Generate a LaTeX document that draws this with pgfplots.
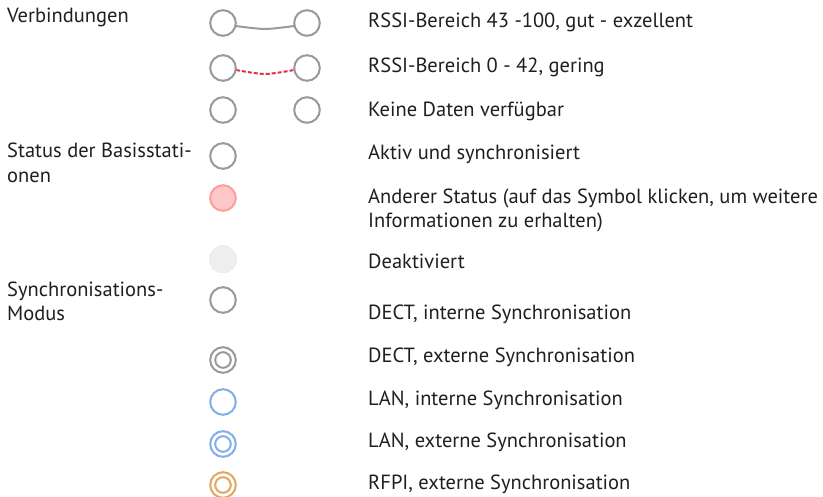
\documentclass[border=0pt]{standalone}
\usepackage{pgfplots}
\pgfplotsset{compat=1.18}
\usepackage{fontspec}
\setmainfont{PT Sans}
\definecolor{ring}{HTML}{9A9A9A}
\definecolor{redline}{HTML}{E2333C}
\definecolor{redfill}{HTML}{FFC8C8}
\definecolor{redring}{HTML}{FF9C9C}
\definecolor{offfill}{HTML}{EEEEEE}
\definecolor{bluering}{HTML}{82AEEA}
\definecolor{orangering}{HTML}{E4A75E}
\tikzset{lbl/.style={inner sep=0pt, anchor=base west, text=black!88}}
\begin{document}
\fontsize{20.5bp}{24bp}\selectfont
\begin{tikzpicture}
\path[use as bounding box] (0,0) rectangle (823bp,497bp);
\begin{axis}[at={(0,0)}, anchor=south west, scale only axis,
  width=823bp, height=497bp, xmin=0, xmax=823, ymin=0, ymax=497,
  y dir=reverse, hide axis, clip=false]
% connection lines
\addplot[ring, line width=2bp, smooth, no marks] coordinates {(236,26) (265,29) (294,26)};
\addplot[redline, line width=2bp, dash pattern=on 4bp off 2bp, smooth, no marks] coordinates {(236,70) (265,74) (294,70)};
% plain gray rings
\addplot[only marks, mark=*, mark size=12.8bp, draw=ring, fill=white, mark options={draw=ring, fill=white, line width=2bp}]
  coordinates {(223,23) (307,23) (223,68) (307,68) (223,110) (307,110) (223,156) (223,300) (223,360)};
% red status
\addplot[only marks, mark=*, mark size=12.8bp, draw=redring, fill=redfill, mark options={draw=redring, fill=redfill, line width=2bp}]
  coordinates {(223,198)};
% deactivated
\addplot[only marks, mark=*, mark size=13.8bp, color=offfill, mark options={draw=offfill, fill=offfill, line width=0pt}]
  coordinates {(223,259)};
% inner rings
\addplot[only marks, mark=*, mark size=7.8bp, draw=ring, fill=white, mark options={draw=ring, fill=white, line width=2bp}]
  coordinates {(223,360)};
% blue
\addplot[only marks, mark=*, mark size=12.8bp, draw=bluering, fill=white, mark options={draw=bluering, fill=white, line width=2bp}]
  coordinates {(223,402) (223,444)};
\addplot[only marks, mark=*, mark size=7.8bp, draw=bluering, fill=white, mark options={draw=bluering, fill=white, line width=2bp}]
  coordinates {(223,444)};
% orange
\addplot[only marks, mark=*, mark size=12.8bp, draw=orangering, fill=white, mark options={draw=orangering, fill=white, line width=2bp}]
  coordinates {(223,485)};
\addplot[only marks, mark=*, mark size=7.8bp, draw=orangering, fill=white, mark options={draw=orangering, fill=white, line width=2bp}]
  coordinates {(223,485)};
% left column
\node[lbl] at (axis cs:7,23) {Verbindungen};
\node[lbl] at (axis cs:7,157) {Status der Basisstati-};
\node[lbl] at (axis cs:7,182) {onen};
\node[lbl] at (axis cs:7,296) {Synchronisations-};
\node[lbl] at (axis cs:7,320) {Modus};
% right column
\node[lbl] at (axis cs:368,28) {RSSI-Bereich 43 -100, gut - exzellent};
\node[lbl] at (axis cs:368,73) {RSSI-Bereich 0 - 42, gering};
\node[lbl] at (axis cs:368,116) {Keine Daten verfügbar};
\node[lbl] at (axis cs:368,159) {Aktiv und synchronisiert};
\node[lbl] at (axis cs:368,203) {Anderer Status (auf das Symbol klicken, um weitere};
\node[lbl] at (axis cs:368,227) {Informationen zu erhalten)};
\node[lbl] at (axis cs:368,268) {Deaktiviert};
\node[lbl] at (axis cs:368,319) {DECT, interne Synchronisation};
\node[lbl] at (axis cs:368,362) {DECT, externe Synchronisation};
\node[lbl] at (axis cs:368,405) {LAN, interne Synchronisation};
\node[lbl] at (axis cs:368,447) {LAN, externe Synchronisation};
\node[lbl] at (axis cs:368,489) {RFPI, externe Synchronisation};
\end{axis}
\end{tikzpicture}
\end{document}
